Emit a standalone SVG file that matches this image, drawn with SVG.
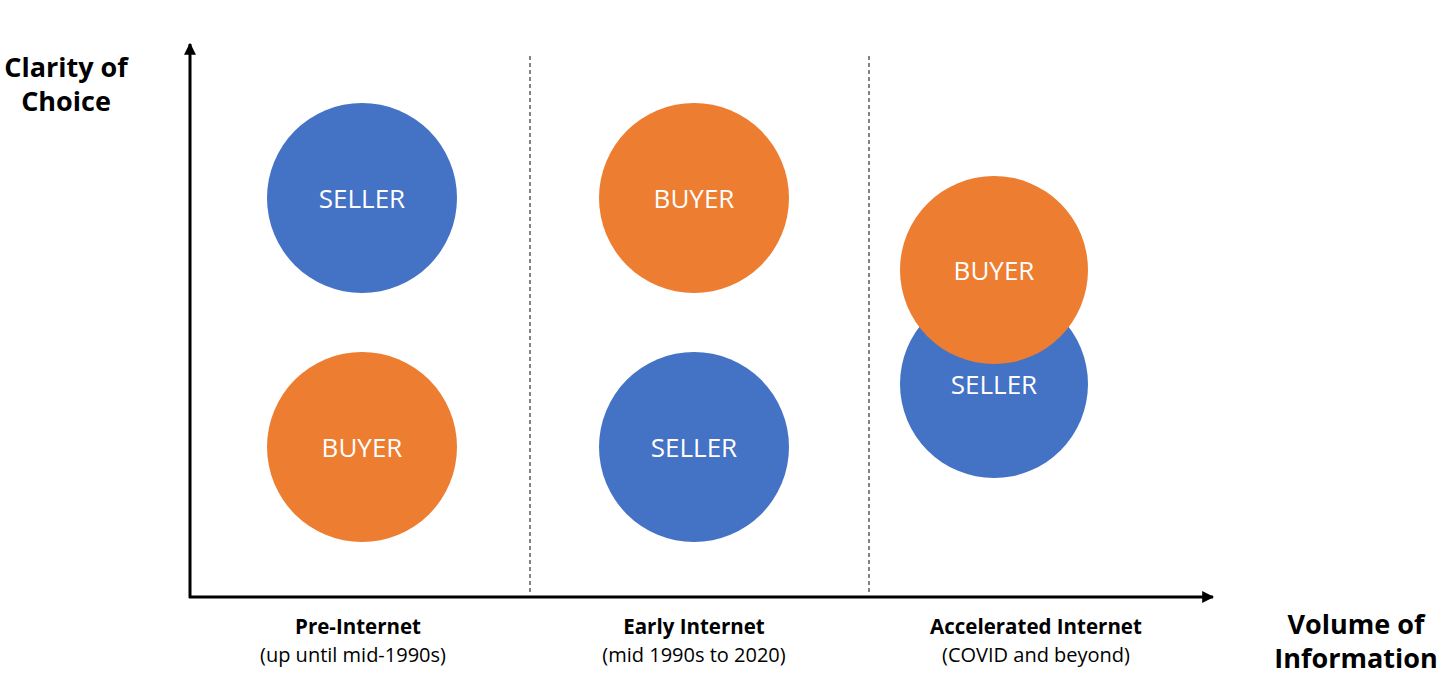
<svg xmlns="http://www.w3.org/2000/svg" width="1456" height="692" viewBox="0 0 1456 692">
<style>
.t{font-family:"Open Sans","Noto Sans","Liberation Sans",sans-serif;text-anchor:middle}
.ax{font-size:27px;font-weight:bold;fill:#000}
.pb{font-size:20.5px;font-weight:bold;fill:#000}
.pn{font-size:20px;fill:#000}
.cl{font-size:26px;fill:#fff}
.buyer{fill:#ED7D31}
.seller{fill:#4472C4}
.dash{stroke:#333;stroke-width:1.2;stroke-dasharray:4 3;fill:none}
</style>
<defs>
<marker id="ah" viewBox="0 0 10 10" refX="9" refY="5" markerWidth="4" markerHeight="4" orient="auto" markerUnits="strokeWidth">
<path d="M0,0 L10,5 L0,10 z" fill="#000"/>
</marker>
</defs>
<rect width="1456" height="692" fill="#fff"/>
<g id="connectors">
<line x1="190" y1="598" x2="190" y2="44" stroke="#000" stroke-width="3" marker-end="url(#ah)"/>
<line x1="189" y1="597" x2="1213" y2="597" stroke="#000" stroke-width="3" marker-end="url(#ah)"/>
<line class="dash" x1="530" y1="56" x2="530" y2="595"/>
<line class="dash" x1="869" y1="56" x2="869" y2="595"/>
</g>
<g id="axis-y-label"><text class="t ax" x="66" y="77">Clarity of</text><text class="t ax" x="66" y="111">Choice</text></g>
<g id="axis-x-label"><text class="t ax" x="1356" y="634">Volume of</text><text class="t ax" x="1356" y="668">Information</text></g>
<g id="period-1"><text class="t pb" x="358" y="634">Pre-Internet</text><text class="t pn" x="353" y="662">(up until mid-1990s)</text></g>
<g id="period-2"><text class="t pb" x="694" y="634">Early Internet</text><text class="t pn" x="694" y="662">(mid 1990s to 2020)</text></g>
<g id="period-3"><text class="t pb" x="1036" y="634">Accelerated Internet</text><text class="t pn" x="1036" y="662">(COVID and beyond)</text></g>
<g id="seller-1"><circle class="seller" cx="362" cy="198" r="95"/><text class="t cl" x="362" y="208">SELLER</text></g>
<g id="buyer-1"><circle class="buyer" cx="362" cy="447" r="95"/><text class="t cl" x="362" y="457">BUYER</text></g>
<g id="buyer-2"><circle class="buyer" cx="694" cy="198" r="95"/><text class="t cl" x="694" y="208">BUYER</text></g>
<g id="seller-2"><circle class="seller" cx="694" cy="447" r="95"/><text class="t cl" x="694" y="457">SELLER</text></g>
<g id="seller-3"><circle class="seller" cx="994" cy="384" r="94"/><text class="t cl" x="994" y="394">SELLER</text></g>
<g id="buyer-3"><circle class="buyer" cx="994" cy="270" r="94"/><text class="t cl" x="994" y="280">BUYER</text></g>
</svg>
